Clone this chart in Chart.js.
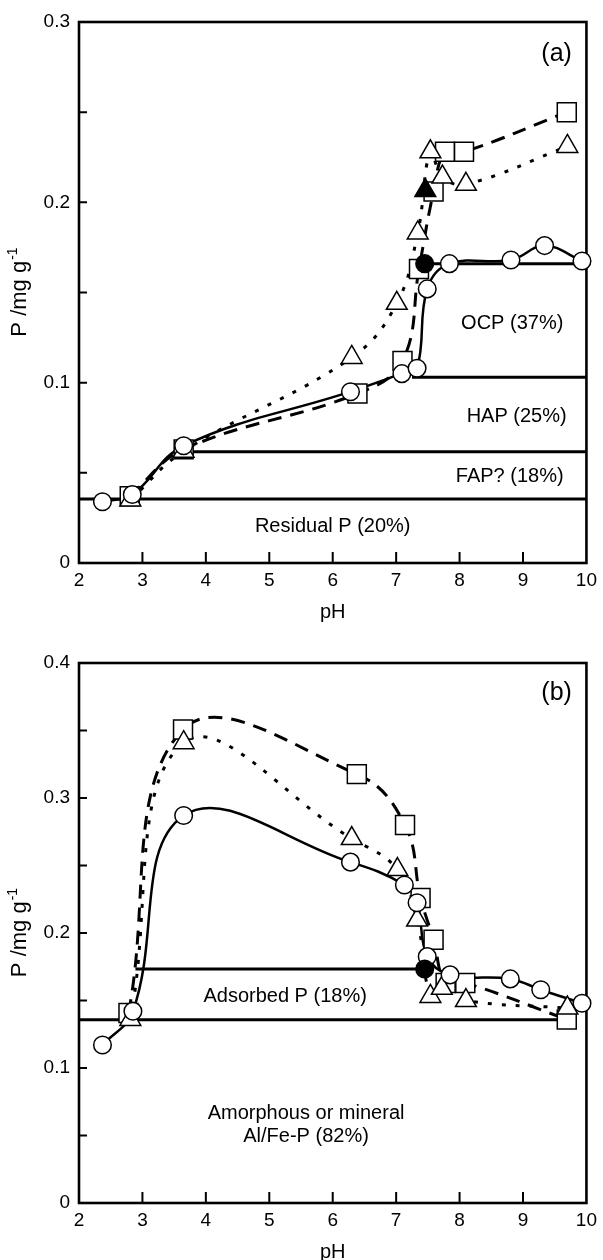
<!DOCTYPE html>
<html>
<head>
<meta charset="utf-8">
<script src="https://cdn.jsdelivr.net/npm/chart.js@4.4.1/dist/chart.umd.min.js"></script>
<style>
  html, body { margin: 0; padding: 0; background: #fff; overflow: hidden; }
  #wrap { position: relative; width: 603px; height: 1260px; }
  canvas { position: absolute; left: 0; }
  #chartA { top: 0; }
  #chartB { top: 620px; }
</style>
</head>
<body>
<div id="wrap">
  <canvas id="chartA" width="603" height="630"></canvas>
  <canvas id="chartB" width="603" height="650"></canvas>
</div>
<script>
/* eslint-disable no-undef */

// (a) P by pH, three treatments
const phCircA = [2.37, 2.84, 3.65, 6.28, 7.09, 7.33, 7.49, 7.84, 8.81, 9.34, 9.93];
const pCircA = [0.034, 0.038, 0.065, 0.095, 0.105, 0.108, 0.152, 0.166, 0.168, 0.176, 0.1675];
const phSqA = [2.80, 3.65, 6.39, 7.10, 7.36, 7.59, 7.77, 8.07, 9.69];
const pSqA = [0.037, 0.063, 0.094, 0.112, 0.163, 0.206, 0.228, 0.228, 0.250];
const phTriA = [2.81, 3.65, 6.30, 7.01, 7.34, 7.54, 7.73, 8.10, 9.70];
const pTriA = [0.035, 0.062, 0.114, 0.144, 0.183, 0.228, 0.214, 0.210, 0.231];
const phFilledCircA = [7.45];
const pFilledCircA = [0.166];
const phFilledTriA = [7.46];
const pFilledTriA = [0.2065];
// fraction boundaries: residual, FAP, HAP, OCP
const bandPA = [0.0355, 0.0617, 0.103, 0.166];
const bandFromA = [2, 3.65, 7.25, 7.45];
const bandToA = [10, 10, 10, 10];

// (b)
const phCircB = [2.37, 2.85, 3.65, 6.28, 7.13, 7.33, 7.49, 7.85, 8.80, 9.28, 9.93];
const pCircB = [0.117, 0.142, 0.287, 0.2525, 0.2356, 0.2224, 0.1825, 0.169, 0.166, 0.158, 0.148];
const phSqB = [2.78, 3.64, 6.38, 7.14, 7.385, 7.59, 7.78, 8.09, 9.69];
const pSqB = [0.1407, 0.3507, 0.3177, 0.280, 0.226, 0.195, 0.163, 0.163, 0.136];
const phTriB = [2.81, 3.65, 6.30, 7.02, 7.33, 7.54, 7.72, 8.10, 9.70];
const pTriB = [0.136, 0.341, 0.270, 0.247, 0.2096, 0.153, 0.159, 0.150, 0.1444];
const phFilledCircB = [7.45];
const pFilledCircB = [0.1733];
// fraction boundaries: mineral Al/Fe-P, adsorbed P
const bandPB = [0.1358, 0.1733];
const bandFromB = [2, 2.89];
const bandToB = [9.69, 7.45];

const yTicksLabelled = [0, 0.1, 0.2, 0.3, 0.4];

const FONT = "'Liberation Sans', Arial, 'DejaVu Sans', sans-serif";
Chart.defaults.font.family = FONT;
Chart.defaults.color = '#000';

const pts = (xs, ys) => xs.map((x, i) => ({ x, y: ys[i] }));

// inward ticks, box frame, rotated y title with superscript, in-plot labels
const panelDecor = {
  id: 'panelDecor',
  beforeDatasetsDraw(chart) {
    const { ctx, chartArea: a, scales: { x, y } } = chart;
    ctx.save();
    ctx.strokeStyle = '#000';
    ctx.lineWidth = 2;
    ctx.beginPath();
    x.ticks.forEach((t) => {
      if (t.value > x.min && t.value < x.max) {
        const px = x.getPixelForValue(t.value);
        ctx.moveTo(px, a.bottom);
        ctx.lineTo(px, a.bottom - 11);
      }
    });
    y.ticks.forEach((t) => {
      if (t.value > y.min + 1e-9 && t.value < y.max - 1e-9) {
        const py = y.getPixelForValue(t.value);
        ctx.moveTo(a.left, py);
        ctx.lineTo(a.left + 8, py);
      }
    });
    ctx.stroke();
    ctx.lineWidth = 2.6;
    ctx.strokeRect(a.left, a.top, a.right - a.left, a.bottom - a.top);
    ctx.restore();
  },
  afterDraw(chart, args, opts) {
    const { ctx, chartArea: a, scales: { x, y } } = chart;
    ctx.save();
    ctx.fillStyle = '#000';

    // y title: P /mg g-1
    ctx.translate(19, (a.top + a.bottom) / 2);
    ctx.rotate(-Math.PI / 2);
    ctx.textBaseline = 'alphabetic';
    ctx.textAlign = 'left';
    const main = 'P /mg g';
    const sup = '-1';
    ctx.font = `22px ${FONT}`;
    const w1 = ctx.measureText(main).width;
    ctx.font = `14px ${FONT}`;
    const w2 = ctx.measureText(sup).width;
    const x0 = -(w1 + w2) / 2;
    ctx.font = `22px ${FONT}`;
    ctx.fillText(main, x0, 7);
    ctx.font = `14px ${FONT}`;
    ctx.fillText(sup, x0 + w1 + 1, -2);
    ctx.setTransform(1, 0, 0, 1, 0, 0);

    ctx.textAlign = 'center';
    ctx.textBaseline = 'middle';
    (opts.labels || []).forEach(([text, lx, ly, size]) => {
      ctx.font = `${size || 20}px ${FONT}`;
      ctx.fillText(text, x.getPixelForValue(lx), y.getPixelForValue(ly));
    });
    ctx.restore();
  },
};

function curve(data, width, dash) {
  return {
    data,
    showLine: true,
    borderColor: '#000',
    borderWidth: width,
    borderDash: dash,
    tension: 0.4,
    pointRadius: 0,
    fill: false,
    order: 10,
  };
}

function markers(data, style, radius, fillColor, order) {
  return {
    data,
    showLine: false,
    pointStyle: style,
    pointRadius: radius,
    pointHoverRadius: radius,
    pointBackgroundColor: fillColor,
    pointBorderColor: '#000',
    pointBorderWidth: 1.5,
    clip: false,
    order,
  };
}

function buildPanel(id, p) {
  const datasets = [];
  p.bandP.forEach((v, i) => {
    datasets.push({
      data: [{ x: p.bandFrom[i], y: v }, { x: p.bandTo[i], y: v }],
      showLine: true,
      borderColor: '#000',
      borderWidth: 3,
      tension: 0,
      pointRadius: 0,
      order: 11,
    });
  });
  datasets.push(curve(pts(p.phCirc, p.pCirc), 2.5, []));
  datasets.push(curve(pts(p.phSq, p.pSq), 3, [14, 9]));
  datasets.push(curve(pts(p.phTri, p.pTri), 3, [4, 10]));
  datasets.push(markers(pts(p.phSq, p.pSq), 'rect', 13.4, '#fff', 4));
  datasets.push(markers(pts(p.phTri, p.pTri), 'triangle', 12, '#fff', 3));
  datasets.push(markers(pts(p.phCirc, p.pCirc), 'circle', 8.8, '#fff', 2));
  p.filled.forEach(([xs, ys, style, r]) => {
    datasets.push(markers(pts(xs, ys), style, r, '#000', 0));
  });

  return new Chart(document.getElementById(id), {
    type: 'scatter',
    data: { datasets },
    plugins: [panelDecor],
    options: {
      responsive: false,
      animation: false,
      devicePixelRatio: 1,
      events: [],
      layout: { padding: { left: 0, right: 10, top: p.top, bottom: 0 }, autoPadding: false },
      plugins: {
        legend: { display: false },
        tooltip: { enabled: false },
        panelDecor: { labels: p.labels },
      },
      scales: {
        x: {
          type: 'linear',
          min: 2,
          max: 10,
          ticks: { stepSize: 1, padding: 6, font: { size: 19 }, color: '#000', maxRotation: 0, autoSkip: false },
          grid: { display: false, drawTicks: false },
          border: { display: false },
          title: { display: true, text: 'pH', font: { size: 20 }, color: '#000', padding: { top: 0, bottom: 6 } },
          afterFit: (s) => { s.height = 67; },
        },
        y: {
          type: 'linear',
          min: 0,
          max: p.yMax,
          ticks: {
            stepSize: 0.05,
            padding: 9,
            autoSkip: false,
            font: { size: 19 },
            color: '#000',
            callback: (v) => {
              const hit = yTicksLabelled.find((t) => Math.abs(t - v) < 1e-6);
              if (hit === undefined) return '';
              return hit === 0 ? '0' : hit.toFixed(1);
            },
          },
          grid: { display: false, drawTicks: false },
          border: { display: false },
          afterFit: (s) => { s.width = 79; },
        },
      },
    },
  });
}

document.addEventListener('DOMContentLoaded', () => {
  buildPanel('chartA', {
    yMax: 0.3,
    top: 22,
    phCirc: phCircA, pCirc: pCircA,
    phSq: phSqA, pSq: pSqA,
    phTri: phTriA, pTri: pTriA,
    filled: [
      [phFilledTriA, pFilledTriA, 'triangle', 12],
      [phFilledCircA, pFilledCircA, 'circle', 8.8],
    ],
    bandP: bandPA, bandFrom: bandFromA, bandTo: bandToA,
    labels: [
      ['(a)', 9.53, 0.282, 25],
      ['OCP (37%)', 8.83, 0.1326],
      ['HAP (25%)', 8.90, 0.081],
      ['FAP? (18%)', 8.79, 0.0477],
      ['Residual P (20%)', 6.0, 0.020],
    ],
  });

  buildPanel('chartB', {
    yMax: 0.4,
    top: 43,
    phCirc: phCircB, pCirc: pCircB,
    phSq: phSqB, pSq: pSqB,
    phTri: phTriB, pTri: pTriB,
    filled: [
      [phFilledCircB, pFilledCircB, 'circle', 8.8],
    ],
    bandP: bandPB, bandFrom: bandFromB, bandTo: bandToB,
    labels: [
      ['(b)', 9.53, 0.3778, 25],
      ['Adsorbed P (18%)', 5.25, 0.1533],
      ['Amorphous or mineral', 5.58, 0.066],
      ['Al/Fe-P (82%)', 5.58, 0.049],
    ],
  });
});
</script>
</body>
</html>
